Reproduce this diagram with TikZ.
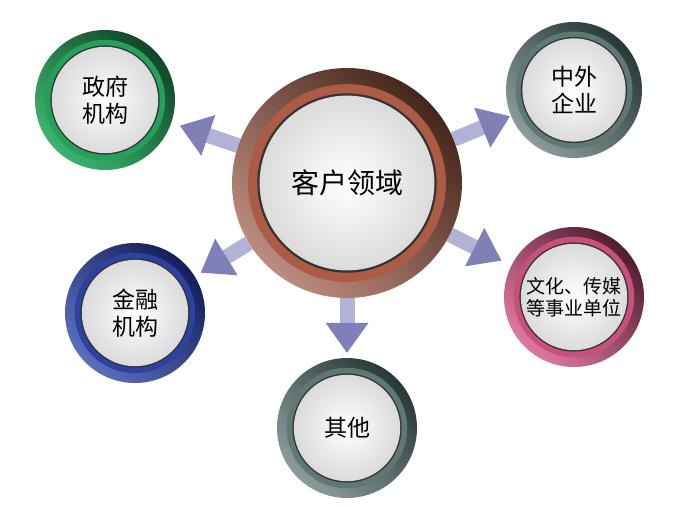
\documentclass[tikz,border=0pt]{standalone}
\usepackage{fontspec}
\newfontfamily\cjk{Noto Sans CJK SC}
\usetikzlibrary{arrows.meta,backgrounds}

% 颜色
\definecolor{arrowlight}{RGB}{178,178,214}
\definecolor{arrowdark}{RGB}{128,128,184}
\definecolor{hubdark}{RGB}{70,38,28}
\definecolor{hublight}{RGB}{190,140,128}
\definecolor{hubmid}{RGB}{172,92,68}
\definecolor{govdark}{RGB}{18,70,40}
\definecolor{govlight}{RGB}{60,180,110}
\definecolor{govmid}{RGB}{36,160,90}
\definecolor{bluedark}{RGB}{20,30,90}
\definecolor{bluelight}{RGB}{90,110,190}
\definecolor{bluemid}{RGB}{45,65,160}
\definecolor{graydark}{RGB}{40,55,55}
\definecolor{graylight}{RGB}{140,155,155}
\definecolor{graymid}{RGB}{95,120,118}
\definecolor{pinkdark}{RGB}{80,30,50}
\definecolor{pinklight}{RGB}{225,120,160}
\definecolor{pinkmid}{RGB}{200,80,125}

\tikzset{
  bubble/.style n args={4}{circle, minimum size=#1, inner sep=0pt, align=center,
    top color=#2, bottom color=#3, shading angle=-45,
    path picture={
      \fill[#4] (path picture bounding box.center) circle ({0.43*#1});
      \fill[black!80] (path picture bounding box.center) circle ({0.39*#1});
      \shade[inner color=white, outer color=black!14]
        (path picture bounding box.center) circle ({0.38*#1});
    }},
  flow/.style={line width=15pt, draw=arrowlight,
    -{Triangle[width=43pt,length=30pt,line width=0pt,color=arrowdark,fill=arrowdark]},
    shorten >=#1},
  flow/.default=6pt
}

\begin{document}
\begin{tikzpicture}[x=1pt,y=-1pt]
  \useasboundingbox (0,0) rectangle (686,504);
  % 中心
  \node[bubble={230pt}{hubdark}{hublight}{hubmid},
    font={\cjk\fontsize{28}{32}\selectfont}] (hub) at (347,183) {客户领域};
  % 周围五个领域
  \node[bubble={140pt}{govdark}{govlight}{govmid},
    font={\cjk\fontsize{23}{27}\selectfont}] (gov) at (105,100) {政府\\机构};
  \node[bubble={136pt}{graydark}{graylight}{graymid},
    font={\cjk\fontsize{23}{27}\selectfont}] (foreign) at (574,90) {中外\\企业};
  \node[bubble={140pt}{bluedark}{bluelight}{bluemid},
    font={\cjk\fontsize{23}{27}\selectfont}] (finance) at (135,313) {金融\\机构};
  \node[bubble={140pt}{graydark}{graylight}{graymid},
    font={\cjk\fontsize{23}{27}\selectfont}] (other) at (347,428) {其他};
  \node[bubble={140pt}{pinkdark}{pinklight}{pinkmid},
    font={\cjk\fontsize{19}{22}\selectfont}] (culture) at (574,297) {文化、传媒\\等事业单位};
  % 箭头
  \begin{scope}[on background layer]
    \draw[flow=9pt] (hub) -- (gov);
    \draw[flow=1pt] (hub) -- (foreign);
    \draw[flow=7pt] (hub) -- (finance);
    \draw[flow=5pt] (hub) -- (other);
    \draw[flow=11pt] (hub) -- (culture);
  \end{scope}
\end{tikzpicture}
\end{document}
